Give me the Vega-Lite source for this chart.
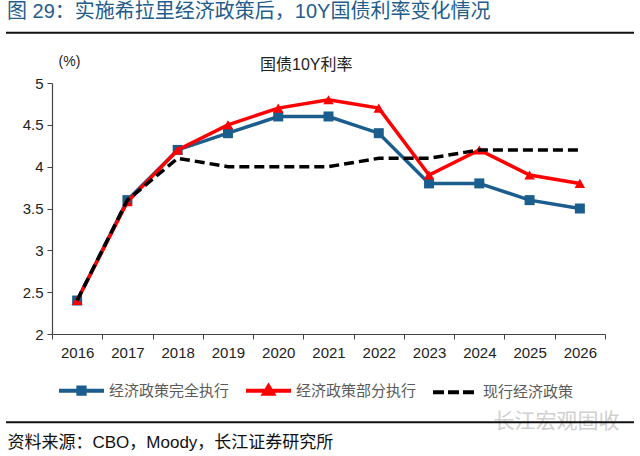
{
  "$schema": "https://vega.github.io/schema/vega-lite/v6.json",
  "autosize": "none",
  "width": 553,
  "height": 251,
  "padding": {"left": 52, "top": 83, "right": 35, "bottom": 122},
  "background": "white",
  "title": {
    "text": "图 29：实施希拉里经济政策后，10Y国债利率变化情况",
    "anchor": "start",
    "frame": "group",
    "dx": -45,
    "dy": 0,
    "fontSize": 20,
    "font": "Liberation Sans, Noto Sans CJK SC",
    "fontWeight": "normal",
    "color": "#235d8c",
    "offset": 10
  },
  "data": {
    "values": [
      {"year": "2016", "series": "经济政策完全执行", "value": 2.4},
      {"year": "2017", "series": "经济政策完全执行", "value": 3.6},
      {"year": "2018", "series": "经济政策完全执行", "value": 4.2},
      {"year": "2019", "series": "经济政策完全执行", "value": 4.4},
      {"year": "2020", "series": "经济政策完全执行", "value": 4.6},
      {"year": "2021", "series": "经济政策完全执行", "value": 4.6},
      {"year": "2022", "series": "经济政策完全执行", "value": 4.4},
      {"year": "2023", "series": "经济政策完全执行", "value": 3.8},
      {"year": "2024", "series": "经济政策完全执行", "value": 3.8},
      {"year": "2025", "series": "经济政策完全执行", "value": 3.6},
      {"year": "2026", "series": "经济政策完全执行", "value": 3.5},
      {"year": "2016", "series": "经济政策部分执行", "value": 2.4},
      {"year": "2017", "series": "经济政策部分执行", "value": 3.58},
      {"year": "2018", "series": "经济政策部分执行", "value": 4.2},
      {"year": "2019", "series": "经济政策部分执行", "value": 4.5},
      {"year": "2020", "series": "经济政策部分执行", "value": 4.7},
      {"year": "2021", "series": "经济政策部分执行", "value": 4.8},
      {"year": "2022", "series": "经济政策部分执行", "value": 4.7},
      {"year": "2023", "series": "经济政策部分执行", "value": 3.9},
      {"year": "2024", "series": "经济政策部分执行", "value": 4.2},
      {"year": "2025", "series": "经济政策部分执行", "value": 3.9},
      {"year": "2026", "series": "经济政策部分执行", "value": 3.8},
      {"year": "2016", "series": "现行经济政策", "value": 2.4},
      {"year": "2017", "series": "现行经济政策", "value": 3.6},
      {"year": "2018", "series": "现行经济政策", "value": 4.1},
      {"year": "2019", "series": "现行经济政策", "value": 4.0},
      {"year": "2020", "series": "现行经济政策", "value": 4.0},
      {"year": "2021", "series": "现行经济政策", "value": 4.0},
      {"year": "2022", "series": "现行经济政策", "value": 4.1},
      {"year": "2023", "series": "现行经济政策", "value": 4.1},
      {"year": "2024", "series": "现行经济政策", "value": 4.2},
      {"year": "2025", "series": "现行经济政策", "value": 4.2},
      {"year": "2026", "series": "现行经济政策", "value": 4.2}
    ]
  },
  "layer": [
    {
      "transform": [{"filter": "datum.series === '经济政策完全执行'"}],
      "mark": {"type": "line", "strokeWidth": 3.5, "point": {"shape": "square", "size": 100, "filled": true, "opacity": 1}},
      "encoding": {
        "x": {
          "field": "year",
          "type": "ordinal",
          "scale": {"type": "band", "paddingInner": 0, "paddingOuter": 0},
          "axis": {
            "title": "资料来源：CBO，Moody，长江证券研究所",
            "titleFontSize": 17,
            "titleFont": "Liberation Sans, Noto Sans CJK SC",
            "titleFontWeight": "normal",
            "titleColor": "#111111",
            "titleAnchor": "start",
            "titleAlign": "left",
            "titleBaseline": "middle",
            "titleX": -45,
            "titleY": 108,
            "labelAngle": 0,
            "labelFontSize": 15,
            "labelFont": "Liberation Sans",
            "labelColor": "#222222",
            "labelPadding": 6,
            "tickSize": 5,
            "tickBand": "extent",
            "tickColor": "#444444",
            "domainColor": "#444444",
            "domainWidth": 1.2,
            "grid": false
          }
        },
        "y": {
          "field": "value",
          "type": "quantitative",
          "scale": {"domain": [2, 5], "nice": false, "zero": false},
          "axis": {
            "title": "(%)",
            "titleAngle": 0,
            "titleX": 17,
            "titleY": -22,
            "titleAlign": "center",
            "titleBaseline": "middle",
            "titleFontSize": 14,
            "titleFont": "Liberation Sans",
            "titleFontWeight": "normal",
            "titleColor": "#222222",
            "values": [2, 2.5, 3, 3.5, 4, 4.5, 5],
            "format": "~g",
            "labelFontSize": 15,
            "labelFont": "Liberation Sans",
            "labelColor": "#222222",
            "labelPadding": 4,
            "tickSize": 5,
            "tickColor": "#444444",
            "domainColor": "#444444",
            "domainWidth": 1.2,
            "grid": false
          }
        },
        "color": {
          "field": "series",
          "type": "nominal",
          "scale": {
            "domain": ["经济政策完全执行", "经济政策部分执行", "现行经济政策"],
            "range": ["#1b5e8e", "#ff0000", "#000000"]
          },
          "legend": {
            "orient": "none",
            "legendX": 5,
            "legendY": 283,
            "direction": "horizontal",
            "title": null,
            "padding": 0,
            "symbolSize": 2025,
            "symbolStrokeWidth": 4,
            "labelFontSize": 15,
            "labelFont": "Noto Sans CJK SC",
            "labelColor": "#5a5a5a",
            "labelOffset": 3,
            "columnPadding": 8,
            "encode": {
              "symbols": {
                "update": {
                  "shape": {"signal": "datum.value === '经济政策完全执行' ? 'M-1,0H1M-0.14,-0.14H0.14V0.14H-0.14Z' : (datum.value === '经济政策部分执行' ? 'M-1,0H1M0,-0.2L0.2,0.13H-0.2Z' : 'M-1,0H1')"},
                  "strokeDash": {"signal": "datum.value === '现行经济政策' ? [11, 4] : [1, 0]"},
                  "stroke": {"signal": "datum.value === '经济政策完全执行' ? '#1b5e8e' : (datum.value === '经济政策部分执行' ? '#ff0000' : '#000000')"},
                  "fill": {"signal": "datum.value === '经济政策完全执行' ? '#1b5e8e' : (datum.value === '经济政策部分执行' ? '#ff0000' : '#000000')"},
                  "opacity": {"value": 1},
                  "strokeWidth": {"value": 4}
                }
              }
            }
          }
        }
      }
    },
    {
      "transform": [{"filter": "datum.series === '经济政策部分执行'"}],
      "mark": {"type": "line", "strokeWidth": 3.5, "point": {"shape": "triangle-up", "size": 110, "filled": true, "opacity": 1}},
      "encoding": {
        "x": {"field": "year", "type": "ordinal"},
        "y": {"field": "value", "type": "quantitative"},
        "color": {"field": "series", "type": "nominal"}
      }
    },
    {
      "transform": [{"filter": "datum.series === '现行经济政策'"}],
      "mark": {"type": "line", "strokeWidth": 3.5, "strokeDash": [10, 5]},
      "encoding": {
        "x": {"field": "year", "type": "ordinal"},
        "y": {"field": "value", "type": "quantitative"},
        "color": {"field": "series", "type": "nominal"}
      }
    },
    {
      "transform": [{"filter": "datum.series === '现行经济政策' && datum.year === '2020'"}],
      "mark": {"type": "text", "fontSize": 16, "font": "Liberation Sans, Noto Sans CJK SC", "color": "#222222", "dx": 28, "clip": false, "text": "国债10Y利率"},
      "encoding": {
        "x": {"field": "year", "type": "ordinal"},
        "y": {"datum": 5.21, "type": "quantitative"}
      }
    },
    {
      "transform": [{"filter": "datum.series === '现行经济政策' && datum.year === '2025'"}],
      "mark": {"type": "text", "fontSize": 21, "font": "Noto Sans CJK SC", "color": "#d0d0d0", "dx": 27, "clip": false, "text": "长江宏观固收"},
      "encoding": {
        "x": {"field": "year", "type": "ordinal"},
        "y": {"datum": 0.946, "type": "quantitative"}
      }
    },
    {
      "transform": [{"filter": "datum.series === '现行经济政策' && datum.year === '2016'"}],
      "mark": {"type": "rule", "color": "#111111", "strokeWidth": 2, "clip": false},
      "encoding": {
        "x": {"value": -46},
        "x2": {"value": 582},
        "y": {"datum": 5.6, "type": "quantitative"}
      }
    },
    {
      "transform": [{"filter": "datum.series === '现行经济政策' && datum.year === '2016'"}],
      "mark": {"type": "rule", "color": "#111111", "strokeWidth": 2, "clip": false},
      "encoding": {
        "x": {"value": -46},
        "x2": {"value": 582},
        "y": {"datum": 0.946, "type": "quantitative"}
      }
    }
  ],
  "config": {
    "view": {"stroke": null}
  }
}
